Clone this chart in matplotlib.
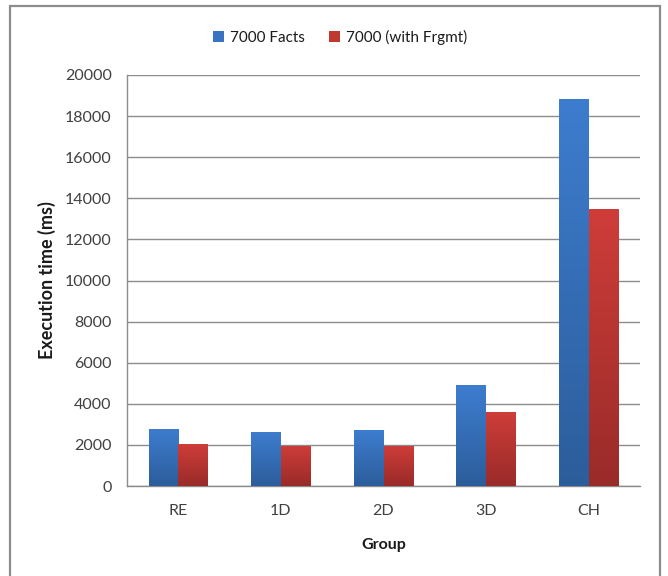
import numpy as np
import matplotlib
matplotlib.use("Agg")
import matplotlib.pyplot as plt
from matplotlib.colors import LinearSegmentedColormap
from matplotlib.patches import Rectangle

plt.rcParams['font.family'] = ['Lato', 'DejaVu Sans']

groups = ["RE", "1D", "2D", "3D", "CH"]
facts = [2780, 2640, 2720, 4910, 18850]
frgmt = [2040, 1960, 1960, 3620, 13470]
series_names = ["7000 Facts", "7000 (with Frgmt)"]
y_ticks = [0, 2000, 4000, 6000, 8000, 10000, 12000, 14000, 16000, 18000, 20000]

top_colors = ["#3d7dcf", "#cf3d39"]
bottom_colors = ["#2c5d9b", "#992b29"]
legend_colors = ["#3a74c0", "#c0392f"]

fig = plt.figure(figsize=(6.68, 5.76), dpi=100)
fig.patches.append(Rectangle((10 / 668, -0.01), 650 / 668, 1 - 6 / 576 + 0.01,
                             transform=fig.transFigure, fill=False,
                             edgecolor="#8c8c8c", linewidth=1.6, zorder=0))

ax = fig.add_axes([127 / 668, 1 - 486 / 576, 513 / 668, 411 / 576])

x = np.arange(len(groups))
width = 0.29


def gradient_bars(xpos, values, top, bottom):
    bars = ax.bar(xpos, values, width, color="none", edgecolor="none", zorder=3)
    cmap = LinearSegmentedColormap.from_list("g", [bottom, top])
    grad = np.linspace(0, 1, 256).reshape(-1, 1)
    for b in bars:
        x0, y0 = b.get_x(), b.get_y()
        w, h = b.get_width(), b.get_height()
        im = ax.imshow(grad, cmap=cmap, origin="lower", aspect="auto",
                       extent=(x0, x0 + w, y0, y0 + h), zorder=3)
        im.set_clip_path(b)
    return bars


gradient_bars(x - width / 2, facts, top_colors[0], bottom_colors[0])
gradient_bars(x + width / 2, frgmt, top_colors[1], bottom_colors[1])

ax.set_xlim(-0.5, len(groups) - 0.5)
ax.set_ylim(0, 20000)
ax.set_yticks(y_ticks)
ax.set_xticks(x)
ax.set_xticklabels(groups)
ax.yaxis.grid(True, color="#8c8c8c", linewidth=1.0, zorder=0)
ax.set_axisbelow(True)
ax.tick_params(axis="both", length=0, labelsize=11.5, labelcolor="#404040")
ax.tick_params(axis="x", pad=13)
ax.tick_params(axis="y", pad=11)
for s in ["top", "right"]:
    ax.spines[s].set_visible(False)
for s in ["left", "bottom"]:
    ax.spines[s].set_color("#8c8c8c")
    ax.spines[s].set_linewidth(1.0)

ax.set_xlabel("Group", fontsize=11.5, fontweight="bold", color="#1a1a1a", labelpad=14)
ax.set_ylabel("Execution time (ms)", fontsize=13, fontweight="bold", color="#1a1a1a")
ax.yaxis.set_label_coords((56 - 127) / 513, 0.5)

handles = [Rectangle((0, 0), 1, 1, facecolor=c, edgecolor="none") for c in legend_colors]
fig.legend(handles, series_names, loc="center", bbox_to_anchor=(340 / 668, 1 - 37 / 576),
           ncol=2, frameon=False, fontsize=11, handlelength=0.7, handleheight=0.7,
           handletextpad=0.4, columnspacing=1.6, labelcolor="#1a1a1a")

fig.savefig("out.png", dpi=100)
